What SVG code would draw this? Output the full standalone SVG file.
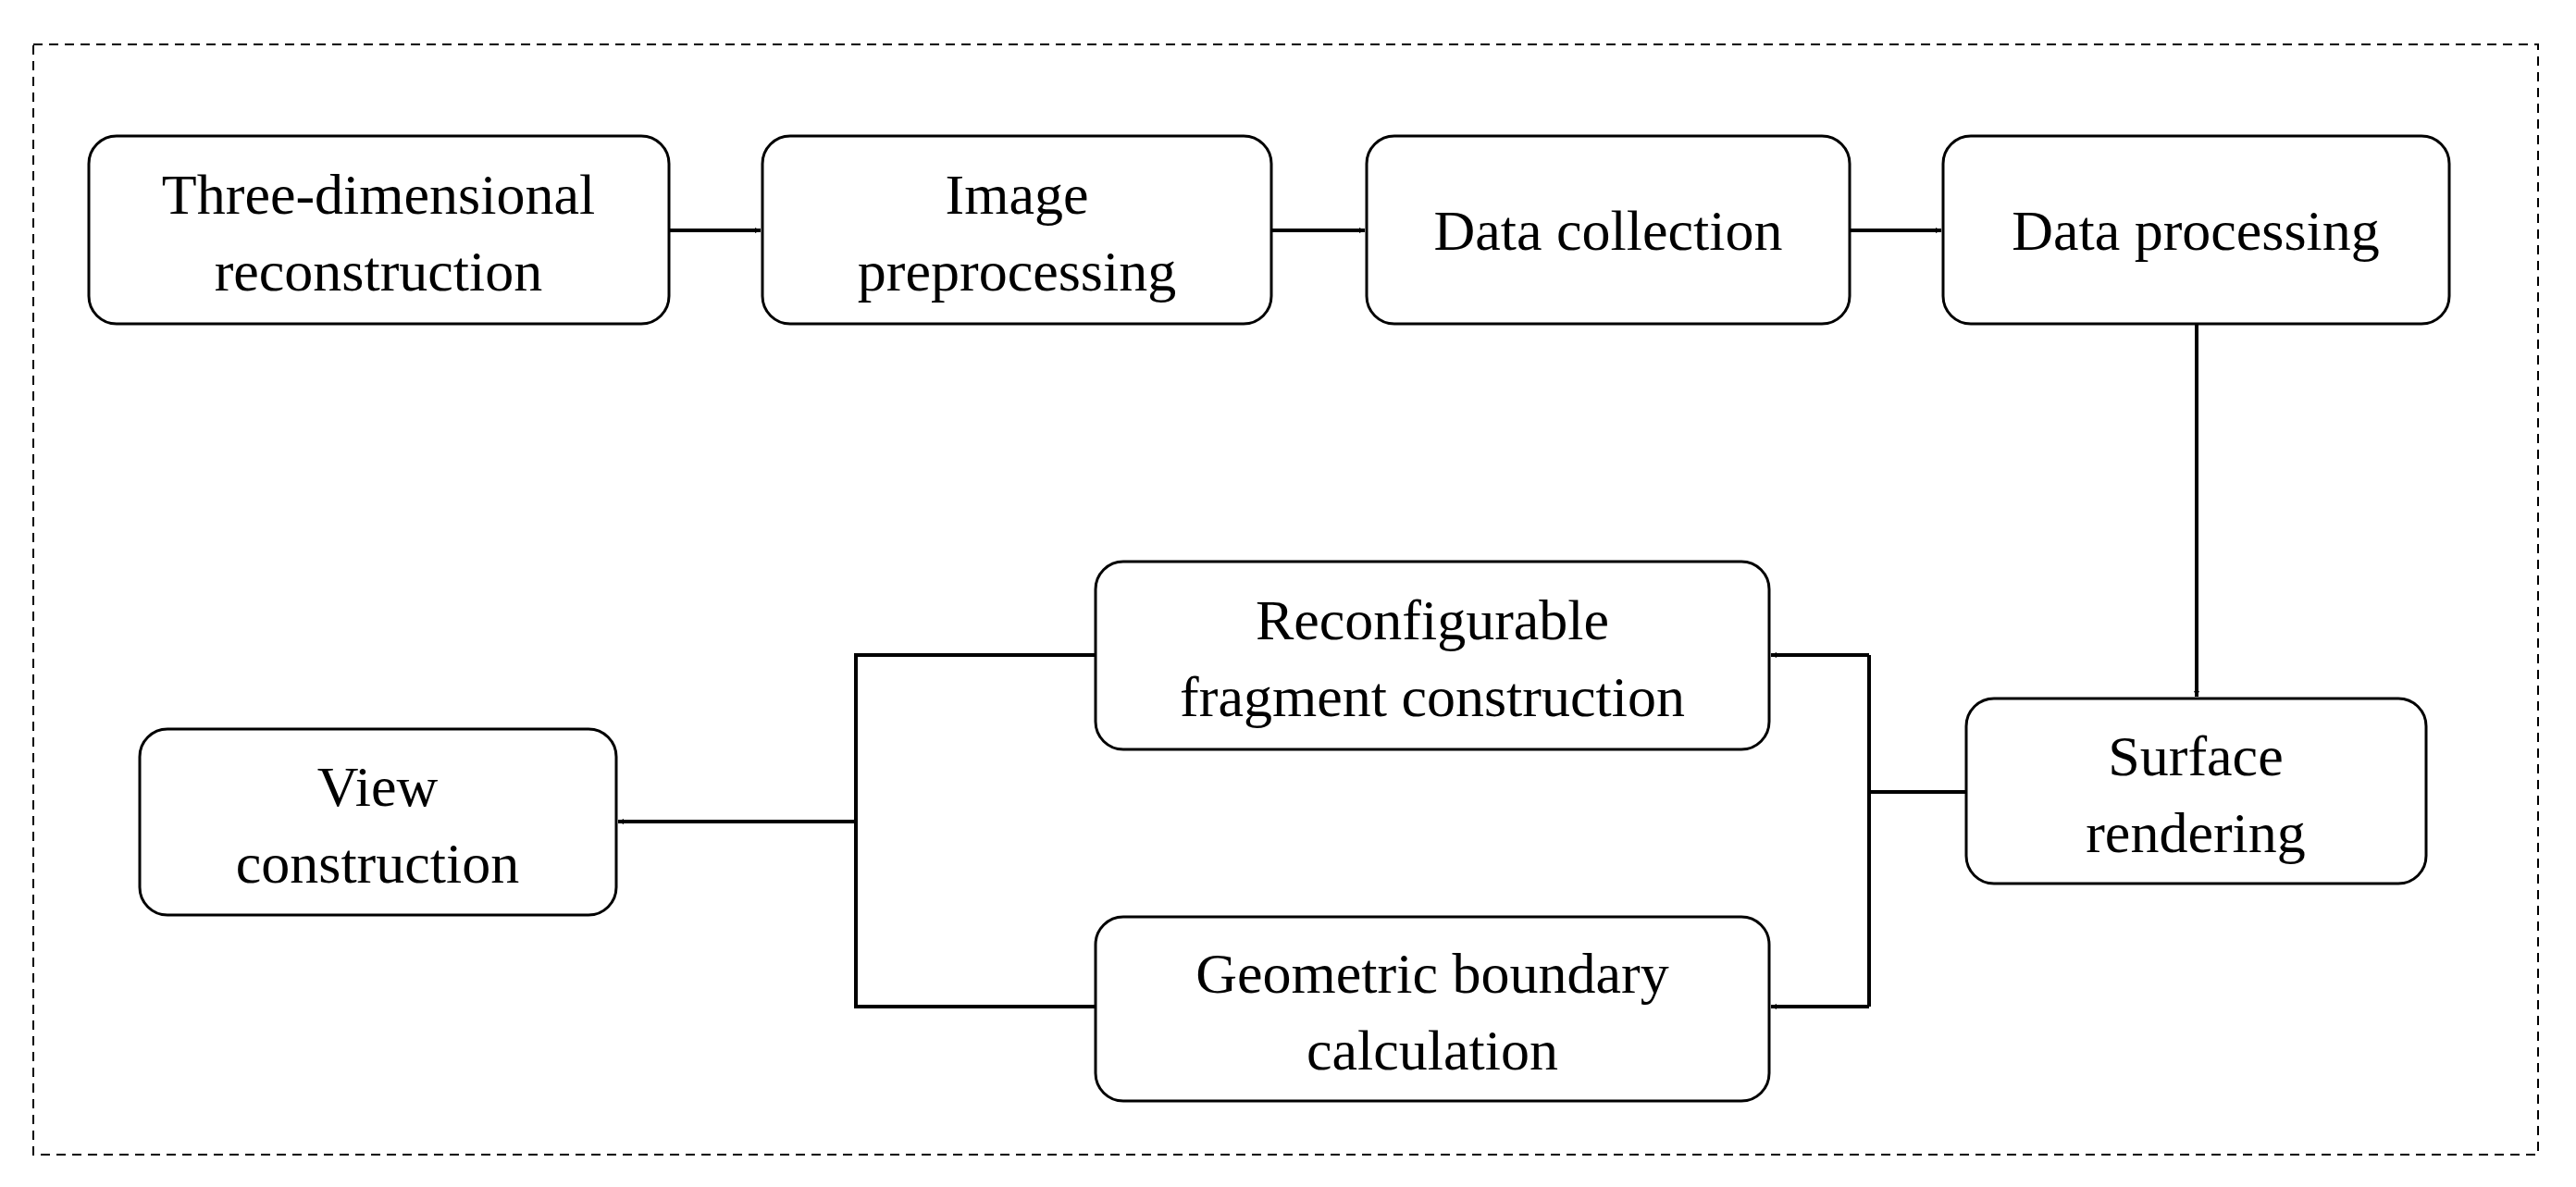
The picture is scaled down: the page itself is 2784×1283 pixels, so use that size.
<svg xmlns="http://www.w3.org/2000/svg" width="2784" height="1283" viewBox="0 0 2784 1283">
<defs>
<marker id="ah" viewBox="0 0 10 10" refX="10" refY="5" markerWidth="6" markerHeight="6" orient="auto" markerUnits="userSpaceOnUse" style="overflow:visible"><path d="M0,0 L10,5 L0,10 z" fill="#000"/></marker>
<style>
.b{fill:#fff;stroke:#000;stroke-width:3}
.t{font-family:"Liberation Serif",serif;font-size:62px;text-anchor:middle;fill:#000}
.c{fill:none;stroke:#000;stroke-width:4}
</style>
</defs>
<rect width="2784" height="1283" fill="#fff"/>
<rect x="36" y="48" width="2707" height="1200" fill="none" stroke="#000" stroke-width="2" stroke-dasharray="10,7"/>
<g id="connectors">
<path class="c" d="M723,249 H822" marker-end="url(#ah)" style="--m:0"/>
<path class="c" d="M1374,249 H1475" marker-end="url(#ah)"/>
<path class="c" d="M1999,249 H2098" marker-end="url(#ah)"/>
<path class="c" d="M2374,350 V753" marker-end="url(#ah)"/>
<path class="c" d="M2125,856 H2020"/>
<path class="c" d="M2020,708 V1088"/>
<path class="c" d="M2020,708 H1914" marker-end="url(#ah)"/>
<path class="c" d="M2020,1088 H1914" marker-end="url(#ah)"/>
<path class="c" d="M1184,708 H925 V1088 H1184"/>
<path class="c" d="M925,888 H668" marker-end="url(#ah)"/>
</g>
<g id="n1"><rect class="b" x="96" y="147" width="627" height="203" rx="30"/><text class="t" x="409" y="231">Three-dimensional</text><text class="t" x="409" y="314">reconstruction</text></g>
<g id="n2"><rect class="b" x="824" y="147" width="550" height="203" rx="30"/><text class="t" x="1099" y="231">Image</text><text class="t" x="1099" y="314">preprocessing</text></g>
<g id="n3"><rect class="b" x="1477" y="147" width="522" height="203" rx="30"/><text class="t" x="1738" y="270">Data collection</text></g>
<g id="n4"><rect class="b" x="2100" y="147" width="547" height="203" rx="30"/><text class="t" x="2373" y="270">Data processing</text></g>
<g id="n5"><rect class="b" x="2125" y="755" width="497" height="200" rx="30"/><text class="t" x="2373" y="838">Surface</text><text class="t" x="2373" y="921">rendering</text></g>
<g id="n6"><rect class="b" x="1184" y="607" width="728" height="203" rx="30"/><text class="t" x="1548" y="691">Reconfigurable</text><text class="t" x="1548" y="774">fragment construction</text></g>
<g id="n7"><rect class="b" x="1184" y="991" width="728" height="199" rx="30"/><text class="t" x="1548" y="1073">Geometric boundary</text><text class="t" x="1548" y="1156">calculation</text></g>
<g id="n8"><rect class="b" x="151" y="788" width="515" height="201" rx="30"/><text class="t" x="408" y="871">View</text><text class="t" x="408" y="954">construction</text></g>
</svg>
